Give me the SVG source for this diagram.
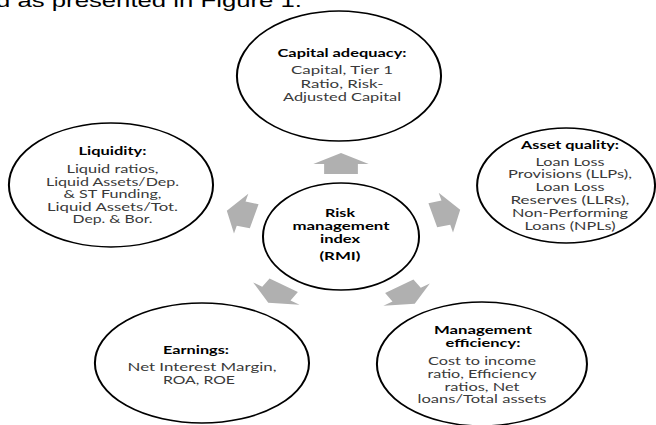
<svg xmlns="http://www.w3.org/2000/svg" xmlns:xlink="http://www.w3.org/1999/xlink" width="656" height="425" viewBox="0 0 656 425">
  <style>
    .bubble { fill: #ffffff; stroke: #000000; stroke-width: 1.5; }
    .head { font-family: Lato, "Liberation Sans", sans-serif; font-size: 11px; font-weight: bold; fill: #000000; text-anchor: middle; }
    .body { font-family: Lato, "Liberation Sans", sans-serif; font-size: 11px; fill: #3a3a3a; text-anchor: middle; }
    .lead { font-family: "Liberation Sans", Arial, sans-serif; font-size: 19px; fill: #000000; }
    .block { fill: #b0b0b0; }
  </style>
  <defs>
    <!-- block arrow centred on the origin, pointing along +x -->
    <polygon id="arrow" points="-10.5,-12.5 -0.5,-12.5 -0.5,-20.5 10.5,0 -0.5,20.5 -0.5,12.5 -10.5,12.5"/>
  </defs>

  <rect width="656" height="425" fill="#ffffff"/>

  <!-- running text above the figure -->
  <text class="lead" x="-4" y="7" textLength="306" lengthAdjust="spacingAndGlyphs">d as presented in Figure 1.</text>

  <!-- connectors: block arrows from the index to each component -->
  <g id="connectors" class="block">
    <use xlink:href="#arrow" href="#arrow" transform="translate(341,163.5) scale(1.35,1) rotate(-90)"/>
    <use xlink:href="#arrow" href="#arrow" transform="translate(240.5,213.5) scale(1.35,1) rotate(195)"/>
    <use xlink:href="#arrow" href="#arrow" transform="translate(446.5,212.5) scale(1.35,1) rotate(-15)"/>
    <use xlink:href="#arrow" href="#arrow" transform="translate(276,294) scale(1.35,1) rotate(123)"/>
    <use xlink:href="#arrow" href="#arrow" transform="translate(407,295) scale(1.35,1) rotate(57)"/>
  </g>

  <g id="capital-adequacy">
    <ellipse class="bubble" cx="251.1" cy="76" rx="75.6" ry="65" transform="scale(1.35,1)"/>
    <text class="head" x="342" y="57" textLength="129" lengthAdjust="spacingAndGlyphs">Capital adequacy:</text>
    <text class="body" x="342" y="74" textLength="102" lengthAdjust="spacingAndGlyphs">Capital, Tier 1</text>
    <text class="body" x="342" y="87.5" textLength="83" lengthAdjust="spacingAndGlyphs">Ratio, Risk-</text>
    <text class="body" x="342" y="100.5" textLength="118" lengthAdjust="spacingAndGlyphs">Adjusted Capital</text>
  </g>

  <g id="liquidity">
    <ellipse class="bubble" cx="82.2" cy="185" rx="75.6" ry="62" transform="scale(1.35,1)"/>
    <text class="head" x="112.5" y="154.5" textLength="68" lengthAdjust="spacingAndGlyphs">Liquidity:</text>
    <text class="body" x="112.5" y="173" textLength="92" lengthAdjust="spacingAndGlyphs">Liquid ratios,</text>
    <text class="body" x="112.5" y="185.5" textLength="133" lengthAdjust="spacingAndGlyphs">Liquid Assets/Dep.</text>
    <text class="body" x="112.5" y="198" textLength="98" lengthAdjust="spacingAndGlyphs">&amp; ST Funding,</text>
    <text class="body" x="112.5" y="210.5" textLength="131" lengthAdjust="spacingAndGlyphs">Liquid Assets/Tot.</text>
    <text class="body" x="112.5" y="223" textLength="80" lengthAdjust="spacingAndGlyphs">Dep. &amp; Bor.</text>
  </g>

  <g id="asset-quality">
    <ellipse class="bubble" cx="419.3" cy="185.5" rx="65.9" ry="57.5" transform="scale(1.35,1)"/>
    <text class="head" x="570" y="148.5" textLength="98" lengthAdjust="spacingAndGlyphs">Asset quality:</text>
    <text class="body" x="570" y="165.5" textLength="69" lengthAdjust="spacingAndGlyphs">Loan Loss</text>
    <text class="body" x="570" y="178" textLength="124" lengthAdjust="spacingAndGlyphs">Provisions (LLPs),</text>
    <text class="body" x="570" y="190.5" textLength="69" lengthAdjust="spacingAndGlyphs">Loan Loss</text>
    <text class="body" x="570" y="203.5" textLength="119" lengthAdjust="spacingAndGlyphs">Reserves (LLRs),</text>
    <text class="body" x="570" y="216.5" textLength="116" lengthAdjust="spacingAndGlyphs">Non-Performing</text>
    <text class="body" x="570" y="229.5" textLength="91" lengthAdjust="spacingAndGlyphs">Loans (NPLs)</text>
  </g>

  <g id="risk-management-index">
    <ellipse class="bubble" cx="252.6" cy="236.5" rx="57.8" ry="53.5" transform="scale(1.35,1)"/>
    <text class="head" x="340" y="216.5" textLength="30" lengthAdjust="spacingAndGlyphs">Risk</text>
    <text class="head" x="341" y="230" textLength="97" lengthAdjust="spacingAndGlyphs">management</text>
    <text class="head" x="340" y="242.5" textLength="40" lengthAdjust="spacingAndGlyphs">index</text>
    <text class="head" x="340" y="260" textLength="41" lengthAdjust="spacingAndGlyphs">(RMI)</text>
  </g>

  <g id="earnings">
    <ellipse class="bubble" cx="149.6" cy="363" rx="79.3" ry="60" transform="scale(1.35,1)"/>
    <text class="head" x="196" y="354" textLength="66" lengthAdjust="spacingAndGlyphs">Earnings:</text>
    <text class="body" x="202" y="370.5" textLength="149" lengthAdjust="spacingAndGlyphs">Net Interest Margin,</text>
    <text class="body" x="199" y="383.5" textLength="72" lengthAdjust="spacingAndGlyphs">ROA, ROE</text>
  </g>

  <g id="management-efficiency">
    <ellipse class="bubble" cx="357" cy="364" rx="77.8" ry="62" transform="scale(1.35,1)"/>
    <text class="head" x="483" y="334" textLength="98" lengthAdjust="spacingAndGlyphs">Management</text>
    <text class="head" x="483" y="347" textLength="75" lengthAdjust="spacingAndGlyphs">efficiency:</text>
    <text class="body" x="482" y="365" textLength="108" lengthAdjust="spacingAndGlyphs">Cost to income</text>
    <text class="body" x="482" y="378" textLength="109" lengthAdjust="spacingAndGlyphs">ratio, Efficiency</text>
    <text class="body" x="482" y="390.5" textLength="75" lengthAdjust="spacingAndGlyphs">ratios, Net</text>
    <text class="body" x="482" y="403" textLength="129" lengthAdjust="spacingAndGlyphs">loans/Total assets</text>
  </g>
</svg>
